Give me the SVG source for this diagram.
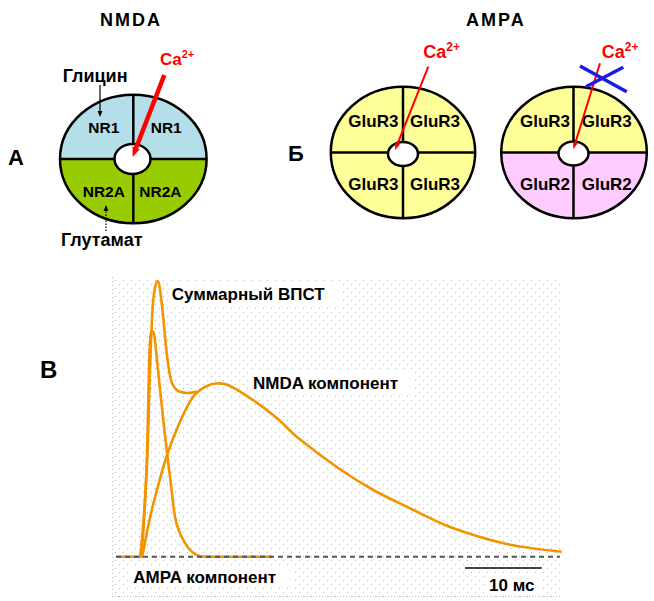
<svg xmlns="http://www.w3.org/2000/svg" width="654" height="601" viewBox="0 0 654 601">
<style>
text{font-family:"Liberation Sans",Arial,sans-serif;font-weight:bold;fill:#000}
.ca{fill:#f00}
.big{font-size:22px}
.lab{font-size:18px}
.nr{font-size:15.5px}
.glu{font-size:17px}
.gt{font-size:17px}
.ttl{font-size:18px;letter-spacing:2px}
.rim{stroke:#000;stroke-width:2.5}
.div{stroke:#000;stroke-width:2.5;fill:none}
.hole{fill:#fff;stroke:#000;stroke-width:2.5}
.blue{fill:#b5dfe8}
.green{fill:#99cc00}
.yellow{fill:#ffff99}
.pink{fill:#ffccff}
.curve{fill:none;stroke:#f29400;stroke-width:2.6;stroke-linejoin:round}
</style>
<defs>
<marker id="ahRed" viewBox="0 0 10 10" refX="2" refY="5" markerWidth="10" markerHeight="10" markerUnits="userSpaceOnUse" orient="auto"><path d="M0,1 L10,5 L0,9 Z" fill="#f00"/></marker>
<marker id="ahRedS" viewBox="0 0 10 10" refX="2" refY="5" markerWidth="7" markerHeight="7" markerUnits="userSpaceOnUse" orient="auto"><path d="M0,1.5 L10,5 L0,8.5 Z" fill="#f00"/></marker>
<marker id="ahBlk" viewBox="0 0 10 10" refX="2" refY="5" markerWidth="6" markerHeight="6" markerUnits="userSpaceOnUse" orient="auto"><path d="M0,1 L10,5 L0,9 Z" fill="#000"/></marker>
<pattern id="dots" width="8" height="8" patternUnits="userSpaceOnUse"><rect x="3" y="0" width="1" height="1" fill="#b4b4b4"/><rect x="7" y="4" width="1" height="1" fill="#b4b4b4"/></pattern>
</defs>
<rect width="654" height="601" fill="#fff"/>

<!-- Panel A: NMDA -->
<g id="nmda-receptor">
<path class="blue" d="M60,159 A73.3,64.3 0 0 1 206.6,159 Z"/>
<path class="green" d="M60,159 A73.3,64.3 0 0 0 206.6,159 Z"/>
<ellipse class="rim" cx="133.3" cy="159" rx="73.3" ry="64.3" fill="none"/>
<line class="div" x1="60" y1="159" x2="206.6" y2="159"/>
<line class="div" x1="133.3" y1="94.7" x2="133.3" y2="223.3"/>
<ellipse class="hole" cx="132.5" cy="159" rx="18" ry="15"/>
<text class="nr" x="88.3" y="133.3">NR1</text>
<text class="nr" x="150.7" y="133.3">NR1</text>
<text class="nr" x="82.7" y="196.7">NR2A</text>
<text class="nr" x="139.3" y="196.7">NR2A</text>
</g>

<!-- Panel Б: AMPA left -->
<g id="ampa-receptor-1">
<ellipse class="yellow" cx="403" cy="152.5" rx="72.2" ry="65.7"/>
<ellipse class="rim" cx="403" cy="152.5" rx="72.2" ry="65.7" fill="none"/>
<line class="div" x1="330.8" y1="152.5" x2="475.2" y2="152.5"/>
<line class="div" x1="403" y1="86.8" x2="403" y2="218.2"/>
<ellipse class="hole" cx="403" cy="154" rx="15" ry="12"/>
<text class="glu" x="348.3" y="127.3">GluR3</text>
<text class="glu" x="410" y="127.3">GluR3</text>
<text class="glu" x="348.3" y="190">GluR3</text>
<text class="glu" x="410" y="190">GluR3</text>
</g>

<!-- Panel Б: AMPA right -->
<g id="ampa-receptor-2">
<path class="yellow" d="M501.2,152.5 A72.8,65.7 0 0 1 646.8,152.5 Z"/>
<path class="pink" d="M501.2,152.5 A72.8,65.7 0 0 0 646.8,152.5 Z"/>
<ellipse class="rim" cx="574" cy="152.5" rx="72.8" ry="65.7" fill="none"/>
<line class="div" x1="501.2" y1="152.5" x2="646.8" y2="152.5"/>
<line class="div" x1="573.5" y1="86.8" x2="573.5" y2="218.2"/>
<ellipse class="hole" cx="573.5" cy="153.5" rx="15" ry="12"/>
<text class="glu" x="520" y="127.3">GluR3</text>
<text class="glu" x="581.7" y="127.3">GluR3</text>
<text class="glu" x="520" y="190">GluR2</text>
<text class="glu" x="581.7" y="190">GluR2</text>
</g>

<!-- Titles and labels -->
<g id="labels">
<text class="ttl" x="100" y="26">NMDA</text>
<text class="ttl" x="466" y="26">AMPA</text>
<text class="big" x="8" y="165">А</text>
<text class="big" x="288" y="161">Б</text>
<text x="40" y="378" style="font-size:24px">В</text>
<text class="lab" x="62.7" y="81.7">Глицин</text>
<text class="lab" x="61" y="246">Глутамат</text>
<text class="ca" x="160" y="65" style="font-size:17px">Ca<tspan dy="-7" style="font-size:11px">2+</tspan></text>
<text class="ca" x="423.3" y="58.3" style="font-size:18px">Ca<tspan dy="-7" style="font-size:12px">2+</tspan></text>
<text class="ca" x="601.7" y="58.3" style="font-size:18px">Ca<tspan dy="-7" style="font-size:12px">2+</tspan></text>
</g>

<!-- Connectors -->
<g id="connectors">
<line x1="164.3" y1="75" x2="135.5" y2="149.5" stroke="#f00" stroke-width="4.5" marker-end="url(#ahRed)"/>
<line x1="428.3" y1="66.7" x2="397.1" y2="144.8" stroke="#f00" stroke-width="2" marker-end="url(#ahRedS)"/>
<line x1="600" y1="63.3" x2="575" y2="143.9" stroke="#f00" stroke-width="2" marker-end="url(#ahRedS)"/>
<line x1="100" y1="85" x2="100" y2="112.2" stroke="#000" stroke-width="1.2" marker-end="url(#ahBlk)"/>
<line x1="106" y1="231" x2="106" y2="209.8" stroke="#000" stroke-width="1.2" stroke-dasharray="1.5,1.5" marker-end="url(#ahBlk)"/>
<g id="block-x" stroke="#1a1ae6" stroke-width="3.5" stroke-linecap="butt">
<line x1="580" y1="66" x2="626.7" y2="91.7"/>
<line x1="586" y1="86.7" x2="623.3" y2="67.3"/>
</g>
</g>

<!-- Panel В: graph -->
<g id="graph">
<rect x="112" y="277" width="449" height="320" fill="url(#dots)"/>
<line x1="112.5" y1="277" x2="112.5" y2="596" stroke="#bdbdbd" stroke-width="1" stroke-dasharray="1,3"/>
<line x1="112" y1="596.5" x2="561" y2="596.5" stroke="#bdbdbd" stroke-width="1" stroke-dasharray="1,2"/>
<rect x="168" y="284" width="175" height="21" fill="#fff"/>
<rect x="250" y="372" width="164" height="24" fill="#fff"/>
<rect x="130" y="567" width="163" height="21" fill="#fff"/>
<rect x="486" y="575" width="55" height="20" fill="#fff"/>

<path id="nmda-curve" class="curve" d="M116,556.7 H142 C143.67,551.7 145.33,539.8 147,532 C149,522.6 151,512.7 153,505 C157.57,487.4 162.13,470.1 166.7,456 C171.13,442.3 175.57,431.6 180,421.7 C184.33,412 188.67,402.9 193,397 C197.33,391.1 201.67,389 206,386.5 C209.33,384.5 212.67,383.7 216,383.5 C220,383.2 224,383.2 228,385 C236.33,388.7 244.67,394.35 253,400 C260.9,405.36 268.8,411.36 276.7,418 C283.37,423.6 290.03,431.3 296.7,436.7 C311.13,448.4 325.57,459.3 340,469.3 C351.1,477.03 362.2,483.77 373.3,490 C384.43,496.25 395.57,501.34 406.7,506.7 C421.13,513.66 435.57,521.62 450,527 C468.9,534.05 487.8,539.82 506.7,544 C525.03,548.05 543.37,549.87 561.7,551.7"/>
<path id="ampa-curve" class="curve" d="M141,556.7 C142.9,542.25 145.1,504.45 146.5,470 C147.9,435.55 148.6,373.2 149.6,350 C150.2,338 150.8,331 151.7,331 C152.6,331 154,332.5 154.5,336 C155,339.5 156.5,355.7 158,370 C159.5,384.3 161.85,406.7 163.3,420 C164.75,433.3 165.6,440.55 166.7,450 C167.8,459.45 168.6,465.6 170,476.7 C171.4,487.8 173.3,507.3 175,516.7 C176.7,526.1 177.5,527.75 180,533.3 C182.5,538.85 186.7,546.2 190,550 C193.3,553.8 196.3,555.1 200,556.2 C203.7,556.7 207,556.7 212,556.7 L272,556.7"/>
<path id="sum-curve" class="curve" d="M140,556.7 C142.1,542.3 145,501.1 146.7,470 C148.4,438.9 148.95,397.8 150,370 C151.05,342.2 151.7,317.8 153,303 C154.3,288.2 156.25,281 157.7,281 C159.15,281 160.2,291 161.7,303 C163.2,315 165.15,340.2 166.7,353 C168.25,365.8 169.3,373.8 171,380 C172.7,386.2 174.1,387.8 176.7,390 C179.3,392.2 183.3,392.75 186.7,393 C190.1,393.25 193.6,392.5 197,391.5"/>
<line x1="116" y1="556.7" x2="560" y2="556.7" stroke="#555" stroke-width="2" stroke-dasharray="5,4"/>
<line x1="465" y1="568" x2="541.7" y2="568" stroke="#444" stroke-width="2"/>
<text class="gt" x="171.7" y="300">Суммарный ВПСТ</text>
<text class="gt" x="253" y="389.3">NMDA компонент</text>
<text class="gt" x="133.3" y="583.3">AMPA компонент</text>
<text class="gt" x="489" y="591">10 мс</text>
</g>
</svg>
